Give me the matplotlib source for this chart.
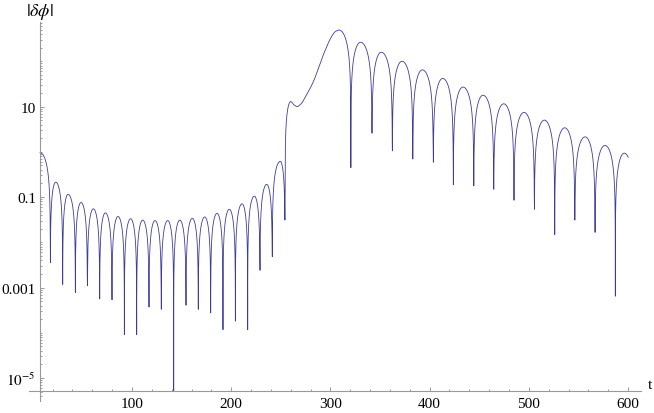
import numpy as np
import matplotlib
matplotlib.use('Agg')
import matplotlib.pyplot as plt
from matplotlib.ticker import FixedLocator, FixedFormatter, NullFormatter
from matplotlib.transforms import blended_transform_factory

plt.rcParams['font.family'] = ['Liberation Serif', 'DejaVu Serif']
plt.rcParams['mathtext.fontset'] = 'stix'

# ---------------- data (t, log10|dphi|) ----------------
start_t, start_log = 7.3, -0.02
end_t, end_log = 600.2, -0.12

# early oscillating regime
dip_a_t = [17.7, 30.1, 42.9, 55.0, 67.4, 79.8, 92.3, 104.7, 117.1, 129.5,
           142.0, 154.4, 166.8, 179.3, 191.7, 204.2, 216.6, 229.0, 241.4, 254.2]
dip_a_log = [-2.45, -2.93, -3.11, -2.96, -3.25, -3.27, -4.04, -4.04, -3.43, -3.48,
             -5.3, -3.39, -3.48, -3.56, -3.93, -3.74, -3.93, -2.62, -2.32, -1.51]
peak_a_t = [23.1, 35.5, 48.6, 61.0, 73.1, 85.9, 98.6, 110.8, 123.2, 136.0,
            148.2, 160.8, 173.3, 185.7, 198.1, 210.9, 223.3, 235.8, 249.5]
peak_a_log = [-0.67, -0.94, -1.12, -1.26, -1.35, -1.43, -1.48, -1.51, -1.52, -1.52,
              -1.51, -1.47, -1.44, -1.36, -1.27, -1.15, -0.98, -0.72, -0.21]

# transient growth
rise_t = [260.0, 263.0, 266.6, 270.0, 275.0, 282.8, 292.8, 301.3, 304.6, 308.7]
rise_log = [1.11, 1.04, 1.00, 1.05, 1.22, 1.55, 2.14, 2.55, 2.65, 2.69]

# late oscillating regime
dip_b_t = [320.6, 341.9, 362.4, 383.0, 403.7, 423.9, 444.5, 464.6, 485.0, 505.6,
           526.1, 546.3, 566.7, 587.2]
dip_b_log = [-0.35, 0.41, 0.02, -0.16, -0.23, -0.73, -0.75, -0.83, -1.07, -1.27,
             -1.83, -1.51, -1.78, -3.19]
peak_b_t = [330.4, 351.3, 372.2, 392.7, 413.2, 433.7, 453.8, 474.7, 495.2, 515.6,
            536.2, 556.7, 576.8, 596.2]
peak_b_log = [2.42, 2.20, 2.00, 1.81, 1.62, 1.43, 1.25, 1.06, 0.87, 0.70,
              0.53, 0.33, 0.14, -0.03]

x_major = [100, 200, 300, 400, 500, 600]
y_major = [1e-5, 1e-3, 1e-1, 1e1]
y_major_labels = [r'$10^{-5}$', '0.001', '0.1', '10']


# ---------------- curve shape between the read points ----------------
def lobe(t, d0, p, d1, a_log):
    s = np.where(t < p, 0.5 * (t - d0) / (p - d0), 0.5 + 0.5 * (t - p) / (d1 - p))
    return 10 ** a_log * np.sin(np.pi * np.clip(s, 0, 1))


def pchip(xk, yk, x):
    xk = np.asarray(xk, float); yk = np.asarray(yk, float)
    h = np.diff(xk); dl = np.diff(yk) / h
    d = np.zeros_like(yk)
    for k in range(1, len(xk) - 1):
        if dl[k - 1] * dl[k] > 0:
            w1 = 2 * h[k] + h[k - 1]; w2 = h[k] + 2 * h[k - 1]
            d[k] = (w1 + w2) / (w1 / dl[k - 1] + w2 / dl[k])
    idx = np.clip(np.searchsorted(xk, x) - 1, 0, len(xk) - 2)
    hh = h[idx]; u = (x - xk[idx]) / hh
    h00 = 2 * u**3 - 3 * u**2 + 1; h10 = u**3 - 2 * u**2 + u
    h01 = -2 * u**3 + 3 * u**2; h11 = u**3 - u**2
    return h00 * yk[idx] + h10 * hh * d[idx] + h01 * yk[idx + 1] + h11 * hh * d[idx + 1]


all_dips_t = np.array(dip_a_t + dip_b_t)
all_dips_log = np.array(dip_a_log + dip_b_log)
t = np.union1d(np.arange(start_t, end_t, 0.01), np.append(all_dips_t, end_t))
y = np.zeros_like(t)

def fill(a, b, vals_fn):
    m = (t >= a) & (t <= b)
    y[m] = vals_fn(t[m])

# start lobe
fill(start_t, dip_a_t[0],
     lambda tt: lobe(tt, 2 * start_t - dip_a_t[0], start_t, dip_a_t[0], start_log))
for i in range(len(peak_a_t)):
    fill(dip_a_t[i], dip_a_t[i + 1],
         lambda tt, i=i: lobe(tt, dip_a_t[i], peak_a_t[i], dip_a_t[i + 1], peak_a_log[i]))
# transient
fill(dip_a_t[-1], rise_t[0],
     lambda tt: lobe(tt, dip_a_t[-1], rise_t[0], 2 * rise_t[0] - dip_a_t[-1], rise_log[0]))
fill(rise_t[0], rise_t[-1], lambda tt: 10 ** pchip(rise_t, rise_log, tt))
fill(rise_t[-1], dip_b_t[0],
     lambda tt: lobe(tt, 2 * rise_t[-1] - dip_b_t[0], rise_t[-1], dip_b_t[0], rise_log[-1]))
for i in range(len(peak_b_t) - 1):
    fill(dip_b_t[i], dip_b_t[i + 1],
         lambda tt, i=i: lobe(tt, dip_b_t[i], peak_b_t[i], dip_b_t[i + 1], peak_b_log[i]))
# end lobe
r = 10 ** (end_log - peak_b_log[-1])
s_end = 1 - np.arcsin(r) / np.pi
d_last = peak_b_t[-1] + (end_t - peak_b_t[-1]) / (2 * s_end - 1)
fill(dip_b_t[-1], end_t,
     lambda tt: lobe(tt, dip_b_t[-1], peak_b_t[-1], d_last, peak_b_log[-1]))

# sampled depth of the cusps
for dt_, dl_ in zip(all_dips_t, all_dips_log):
    m = np.abs(t - dt_) < 0.3
    y[m] = np.maximum(y[m], 10 ** dl_)

# ---------------- figure ----------------
fig = plt.figure(figsize=(6.54, 4.14), dpi=100)
ax = fig.add_axes([0.0448, 0.0297, 0.9346, 0.914])
ax.plot(t, y, color='#3d3d99', lw=0.6)
ax.set_yscale('log')
ax.set_xlim(-3.53, 612.6)
ax.set_ylim(10 ** -5.50, 10 ** 2.861)

axis_col = '#999999'
for side in ('top', 'right'):
    ax.spines[side].set_visible(False)
ax.spines['left'].set_position(('data', start_t))
ax.spines['bottom'].set_position(('data', 10 ** -5.294))
for side in ('left', 'bottom'):
    ax.spines[side].set_color(axis_col)
    ax.spines[side].set_linewidth(0.8)

ax.xaxis.set_major_locator(FixedLocator(x_major))
ax.xaxis.set_major_formatter(FixedFormatter([str(v) for v in x_major]))
ax.xaxis.set_minor_locator(FixedLocator([v for v in range(0, 620, 20) if v % 100]))
ax.xaxis.set_minor_formatter(NullFormatter())

ax.yaxis.set_major_locator(FixedLocator(y_major))
ax.yaxis.set_major_formatter(FixedFormatter(y_major_labels))
ymin = [k * 10.0 ** n for n in range(-6, 3) for k in range(1, 10)]
ymin = [v for v in ymin if not any(abs(v - M) / M < 1e-9 for M in y_major)]
ax.yaxis.set_minor_locator(FixedLocator(ymin))
ax.yaxis.set_minor_formatter(NullFormatter())

ax.tick_params(which='both', direction='in', color=axis_col, width=0.7,
               labelsize=11, labelcolor='black')
ax.tick_params(which='major', length=3.0)
ax.tick_params(which='minor', length=1.7)
ax.tick_params(axis='x', which='major', pad=4)
ax.tick_params(axis='y', which='major', pad=3)

trans = blended_transform_factory(ax.transData, fig.transFigure)
ax.text(start_t, 1 - 12 / 414, r'$|\delta\phi|$', transform=trans, ha='center',
        va='center', fontsize=13, clip_on=False)
fig.text(650 / 654, 1 - 386 / 414, 't', ha='center', va='center', fontsize=11)

fig.savefig('out.png', dpi=100)
